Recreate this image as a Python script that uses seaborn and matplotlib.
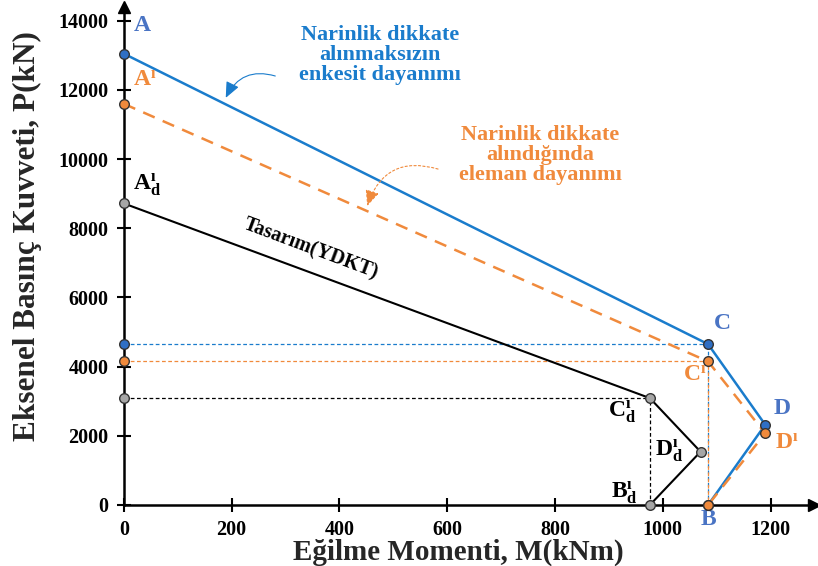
import seaborn as sns
import matplotlib.pyplot as plt
import pandas as pd

# Interaction diagram points (M in kNm, P in kN)
point_names = ["A", "C", "D", "B"]
section_M = [0, 1084, 1190, 1084]
section_P = [13050, 4650, 2320, 0]
member_M = [0, 1084, 1190, 1084]
member_P = [11600, 4150, 2070, 0]
design_M = [0, 976, 1070, 976]
design_P = [8720, 3090, 1540, 0]

x_ticks = [0, 200, 400, 600, 800, 1000, 1200]
y_ticks = [0, 2000, 4000, 6000, 8000, 10000, 12000, 14000]

blue = "#1a7ccc"
blue_lbl = "#4a74c4"
orange = "#f08a3c"
gray = "#a6a6a6"

sns.set_theme(style="white")
plt.rcParams["font.family"] = ["Liberation Serif", "DejaVu Serif"]
plt.rcParams["font.weight"] = "bold"
plt.rcParams["mathtext.fontset"] = "custom"
plt.rcParams["mathtext.rm"] = "Liberation Serif:bold"
plt.rcParams["mathtext.it"] = "Liberation Serif:bold"
plt.rcParams["mathtext.bf"] = "Liberation Serif:bold"

fig = plt.figure(figsize=(8.18, 5.66), dpi=100)
ax = fig.add_axes([0.1513, 0.1078, 0.8435, 0.8799])

df_s = pd.DataFrame({"M": section_M, "P": section_P})
df_m = pd.DataFrame({"M": member_M, "P": member_P})
df_d = pd.DataFrame({"M": design_M, "P": design_P})

# guide lines from point C of each curve
ax.plot([0, section_M[1]], [section_P[1]] * 2, ls=(0, (3, 2)), color=blue, lw=0.9)
ax.plot([section_M[1]] * 2, [0, section_P[1]], ls=(0, (3, 2)), color=blue, lw=0.9)
ax.plot([0, member_M[1]], [member_P[1]] * 2, ls=(0, (3, 2)), color=orange, lw=0.9)
ax.plot([member_M[1]] * 2, [0, member_P[1]], ls=(1.5, (3, 2)), color=orange, lw=0.9)
ax.plot([0, design_M[1]], [design_P[1]] * 2, ls=(0, (3, 2)), color="black", lw=0.9)
ax.plot([design_M[1]] * 2, [0, design_P[1]], ls=(0, (3, 2)), color="black", lw=0.9)

sns.lineplot(data=df_d, x="M", y="P", sort=False, estimator=None, color="black", lw=1.5, ax=ax)
sns.lineplot(data=df_s, x="M", y="P", sort=False, estimator=None, color=blue, lw=1.8, ax=ax)
sns.lineplot(data=df_m, x="M", y="P", sort=False, estimator=None, color=orange, lw=1.8, ax=ax,
             linestyle=(0, (5, 3.5)))

mk = dict(s=48, edgecolor="#333333", linewidth=1.0, zorder=5, clip_on=False, ax=ax)
sns.scatterplot(x=[0] + design_M, y=[design_P[1]] + design_P, color=gray, **mk)
sns.scatterplot(x=[0] + section_M, y=[section_P[1]] + section_P, color="#2f6fc4", **mk)
sns.scatterplot(x=[0] + member_M, y=[member_P[1]] + member_P, color=orange, **mk)

# point labels
fs = 17
tk = dict(fontsize=fs, fontweight="bold", va="center")
ax.text(18, 13870, "A", color=blue_lbl, ha="left", **tk)
ax.text(18, 12280, "A$^{ı}$", color=orange, ha="left", **tk)
ax.text(18, 9250, "A$^{ı}_{d}$", color="black", ha="left", **tk)
ax.text(1110, 5260, "C", color=blue_lbl, ha="center", **tk)
ax.text(1060, 3760, "C$^{ı}$", color=orange, ha="center", **tk)
ax.text(1222, 2800, "D", color=blue_lbl, ha="center", **tk)
ax.text(1230, 1790, "D$^{ı}$", color=orange, ha="center", **tk)
ax.text(925, 2700, "C$^{ı}_{d}$", color="black", ha="center", **tk)
ax.text(1012, 1560, "D$^{ı}_{d}$", color="black", ha="center", **tk)
ax.text(928, 360, "B$^{ı}_{d}$", color="black", ha="center", **tk)
ax.text(1084, -430, "B", color=blue_lbl, ha="center", **tk)

# annotations
ax.text(475, 13000, "Narinlik dikkate\nalınmaksızın\nenkesit dayanımı", color=blue,
        fontsize=16, fontweight="bold", ha="center", va="center", linespacing=1.0)
ax.annotate("", xy=(187, 11700), xytext=(286, 12380),
            arrowprops=dict(arrowstyle="-|>,head_length=0.8,head_width=0.35", color=blue, lw=0.8,
                            connectionstyle="arc3,rad=0.45"))
ax.text(773, 10115, "Narinlik dikkate\nalındığında\neleman dayanımı", color=orange,
        fontsize=16, fontweight="bold", ha="center", va="center", linespacing=1.0)
ax.annotate("", xy=(450, 8570), xytext=(588, 9690),
            arrowprops=dict(arrowstyle="-|>,head_length=0.8,head_width=0.35", color=orange, lw=0.8,
                            ls=(0, (2, 2)), connectionstyle="arc3,rad=0.5"))
ax.text(346, 7400, "Tasarım(YDKT)", color="black", fontsize=14.5, fontweight="bold",
        rotation=-20.5, ha="center", va="center")

# axes styling
ax.set_xlim(0, 1280)
ax.set_ylim(0, 14400)
ax.set_xticks(x_ticks)
ax.set_yticks(y_ticks)
ax.tick_params(axis="both", direction="inout", length=10, width=1.5, labelsize=14.5,
               colors="black", pad=6, left=True, bottom=True)
for lab in ax.get_xticklabels() + ax.get_yticklabels():
    lab.set_fontweight("bold")
sns.despine(ax=ax)
for side in ["left", "bottom"]:
    ax.spines[side].set_color("black")
    ax.spines[side].set_linewidth(1.8)
ax.plot(1, 0, ">", color="black", ms=8, transform=ax.transAxes, clip_on=False)
ax.plot(0, 1, "^", color="black", ms=8, transform=ax.transAxes, clip_on=False)
ax.grid(False)
ax.set_xlabel("Eğilme Momenti, M(kNm)", fontsize=21, fontweight="bold")
ax.xaxis.set_label_coords(0.485, -0.068)
ax.set_ylabel("Eksenel Basınç Kuvveti, P(kN)", fontsize=22.5, fontweight="bold")
ax.yaxis.set_label_coords(-0.118, 0.54)

fig.savefig("out.png", dpi=100)
